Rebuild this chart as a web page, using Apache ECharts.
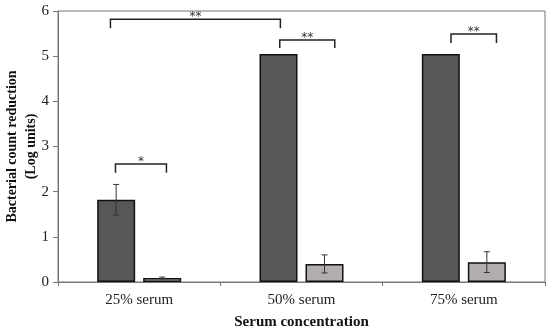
<!DOCTYPE html>
<html><head><meta charset="utf-8">
<script src="https://cdn.jsdelivr.net/npm/echarts@6/dist/echarts.min.js"></script>
<style>html,body{margin:0;padding:0;background:#fff}#c{width:550px;height:331px}</style>
</head><body><div id="c"></div>
<script>
var categories = ['25% serum', '50% serum', '75% serum'];
var darkValues = [1.82, 5.05, 5.05];
var darkErrors = [0.34, 0, 0];
var lightValues = [0.09, 0.40, 0.44];
var lightErrors = [0.02, 0.20, 0.23];
var yTicks = [0, 1, 2, 3, 4, 5, 6];
// brackets: [xStart, xEnd, yTop, yLegEnd, label] in (category index) units
var bracketStart = [-0.146, -0.177, 0.866, 1.921];
var bracketEnd = [0.168, 0.870, 1.205, 2.201];
var bracketTop = [2.61, 5.82, 5.36, 5.49];
var bracketLeg = [2.42, 5.62, 5.18, 5.29];
var bracketLabel = ['*', '**', '**', '**'];

var BAR_W = 38, GAP = 8;
var OFF = (BAR_W + GAP) / 2;
var serif = 'Liberation Serif';

var errData = [];
for (var i = 0; i < categories.length; i++) {
  errData.push([i, darkValues[i], darkErrors[i], -1]);
  errData.push([i, lightValues[i], lightErrors[i], 1]);
}
var brData = bracketStart.map(function (s, i) { return [s, bracketEnd[i], bracketTop[i], bracketLeg[i], bracketLabel[i]]; });

var chart = echarts.init(document.getElementById('c'));
chart.setOption({
  animation: false,
  grid: { left: 58, right: 5, top: 11, bottom: 49, show: true, borderColor: '#777', borderWidth: 1,
    containLabel: false, outerBoundsMode: 'none' },
  xAxis: [{
    type: 'category', data: categories,
    axisLine: { lineStyle: { color: '#777', width: 1 } },
    axisTick: { show: true, length: 4, lineStyle: { color: '#777' } },
    axisLabel: { fontFamily: serif, fontSize: 15, color: '#222', margin: 11 },
    name: 'Serum concentration', nameLocation: 'middle', nameGap: 33, nameMoveOverlap: false,
    nameTextStyle: { fontFamily: serif, fontSize: 15, fontWeight: 'bold', color: '#111' }
  }, {
    type: 'value', min: -0.5, max: 2.5, show: false
  }],
  yAxis: {
    type: 'value', min: 0, max: 6, interval: 1,
    axisLine: { show: true, onZero: false, lineStyle: { color: '#777', width: 1 } },
    axisTick: { show: true, length: 5, lineStyle: { color: '#777' } },
    splitLine: { show: false },
    axisLabel: { fontFamily: serif, fontSize: 15, color: '#222', margin: 9,
      formatter: function (v) { return yTicks.indexOf(v) >= 0 ? String(v) : ''; } },
    name: 'Bacterial count reduction\n(Log units)', nameLocation: 'middle', nameRotate: 90, nameGap: 17,
    nameMoveOverlap: false,
    nameTextStyle: { fontFamily: serif, fontSize: 14, fontWeight: 'bold', color: '#111', lineHeight: 19 }
  },
  series: [{
    type: 'bar', data: darkValues, barWidth: BAR_W, barGap: (GAP / BAR_W * 100) + '%',
    itemStyle: { color: '#575757', borderColor: '#111', borderWidth: 1.5 }
  }, {
    type: 'bar', data: lightValues, barWidth: BAR_W,
    itemStyle: { color: '#b2adaf', borderColor: '#111', borderWidth: 1.5 }
  }, {
    type: 'custom', data: errData, z: 10,
    renderItem: function (params, api) {
      var cat = api.value(0), v = api.value(1), e = api.value(2), side = api.value(3);
      if (!e) return null;
      var top = api.coord([cat, v + e]), bot = api.coord([cat, v - e]);
      var x = top[0] + side * OFF;
      var st = { stroke: '#333', lineWidth: 1 };
      return { type: 'group', children: [
        { type: 'line', shape: { x1: x, y1: top[1], x2: x, y2: bot[1] }, style: st },
        { type: 'line', shape: { x1: x - 3, y1: top[1], x2: x + 3, y2: top[1] }, style: st },
        { type: 'line', shape: { x1: x - 3, y1: bot[1], x2: x + 3, y2: bot[1] }, style: st }
      ] };
    }
  }, {
    type: 'custom', data: brData, xAxisIndex: 1, z: 10,
    renderItem: function (params, api) {
      var a = api.coord([api.value(0), api.value(2)]);
      var b = api.coord([api.value(1), api.value(2)]);
      var la = api.coord([api.value(0), api.value(3)]);
      var st = { stroke: '#222', lineWidth: 1.5, fill: null };
      return { type: 'group', children: [
        { type: 'polyline', shape: { points: [[a[0], la[1]], [a[0], a[1]], [b[0], b[1]], [b[0], la[1]]] }, style: st },
        { type: 'text', style: { text: brData[params.dataIndex][4], x: (a[0] + b[0]) / 2, y: a[1] - 2,
          align: 'center', verticalAlign: 'middle', fontFamily: 'DejaVu Sans', fontSize: 12, fill: '#333' } }
      ] };
    }
  }]
});
</script></body></html>
